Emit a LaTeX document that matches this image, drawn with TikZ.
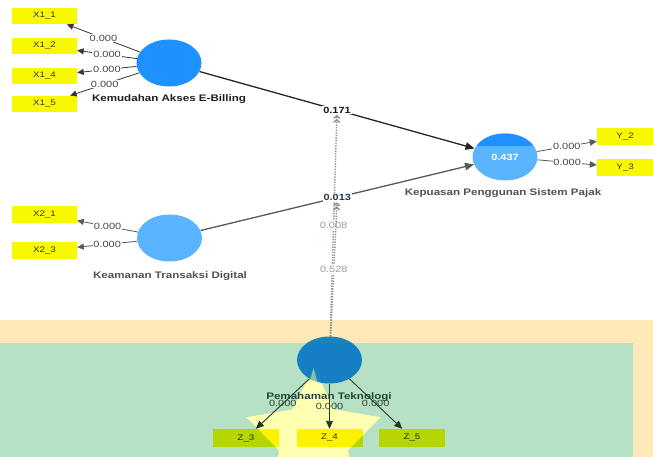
\documentclass[tikz,border=0pt]{standalone}
\usepackage{fontspec}
\setmainfont{Liberation Sans}[FakeStretch=1.22]
\usetikzlibrary{arrows.meta,shapes.geometric,calc}
\pgfdeclarelayer{bg}
\pgfsetlayers{bg,main}
\definecolor{dblue}{RGB}{30,144,255}
\definecolor{lblue}{RGB}{90,180,255}
\definecolor{ybox}{RGB}{248,248,0}
\definecolor{beige}{RGB}{254,234,185}
\definecolor{pgreen}{RGB}{183,225,197}
\definecolor{staryel}{RGB}{255,255,178}
\definecolor{modgray}{RGB}{135,145,140}
\definecolor{modtxt}{RGB}{150,160,158}
\begin{document}
\begin{tikzpicture}[x=1pt,y=-1pt,
  lv/.style={ellipse, minimum width=65pt, minimum height=47pt, inner sep=0pt},
  ind/.style={rectangle, fill=ybox, minimum width=65pt, minimum height=16.5pt, inner sep=0pt, font=\fontsize{8}{9}\selectfont, text=black!80},
  lvlab/.style={font=\bfseries\fontsize{9.5}{11}\selectfont},
  wt/.style={fill=white, inner sep=0.8pt, font=\fontsize{9}{10}\selectfont, text=black!72},
  ld/.style={draw=black!78, line width=0.8pt, -{Triangle[length=6.5pt,width=6pt]}},
  yl/.style={draw=black!65, line width=0.8pt, -{Triangle[length=7pt,width=6.5pt]}},
  zld/.style={draw={rgb,255:red,35;green,55;blue,35}, line width=0.9pt, -{Triangle[length=8pt,width=7pt]}},
  zlab/.style={inner sep=0pt, font=\fontsize{9}{10}\selectfont, text={rgb,255:red,40;green,70;blue,55}},
  pathline/.style={line width=1.3pt, -{Triangle[length=9pt,width=7.5pt]}},
  pathlab/.style={fill=white, inner sep=1pt, font=\bfseries\fontsize{9}{10}\selectfont},
  modline/.style={draw=modgray, line width=1.4pt, dash pattern=on 1.3pt off 1.3pt, -{Straight Barb[length=2.5pt,width=6pt] Straight Barb[length=2.5pt,width=6pt]}},
  modlab/.style={fill=white, inner sep=1pt, font=\fontsize{9}{10}\selectfont, text=modtxt},
  starshape/.style={star, star points=5, star point ratio=1.94, minimum size=141pt, inner sep=0pt}
]
\useasboundingbox (0,0) rectangle (653,457);
\begin{pgfonlayer}{bg}
  \fill[white] (0,0) rectangle (653,457);
  \fill[beige] (0,320) rectangle (653,457);
  \fill[pgreen] (0,343) rectangle (633,457);
  \node[starshape, fill=staryel] (star) at (313.5,439) {};
\end{pgfonlayer}

% latent variables
\node[lv, fill=dblue] (kem) at (169,63) {};
\node[lvlab, text=black!88] (kemlab) at (169,99) {Kemudahan Akses E-Billing};
\node[lv, fill=lblue] (kea) at (169.5,238) {};
\node[lvlab, text=black!68] (kealab) at (170,276) {Keamanan Transaksi Digital};
\node[lv, fill=lblue] (kep) at (505,157) {};
\begin{scope}
  \clip (505,157) ellipse (32.5pt and 23.5pt);
  \fill[dblue] (470,130) rectangle (540,146);
\end{scope}
\node[text=white, font=\bfseries\fontsize{9}{10}\selectfont] (r2) at (kep.center) {0.437};
\node[lvlab, text=black!68] (keplab) at (503,193) {Kepuasan Penggunan Sistem Pajak};

\begin{scope}[blend mode=multiply]
  \node[lv, fill=dblue] (pem) at (329.5,360) {};
  \node[ind, minimum width=66pt, minimum height=18pt, fill=yellow] (z3) at (246,438) {Z\_3};
  \node[ind, minimum width=66pt, minimum height=18pt, fill=yellow] (z4) at (329.5,438) {Z\_4};
  \node[ind, minimum width=66pt, minimum height=18pt, fill=yellow] (z5) at (412,438) {Z\_5};
\end{scope}
\begin{scope}
  \clip (329.5,360) ellipse (32.5pt and 23.5pt);
  \fill[staryel, opacity=0.45] (313.5,368) -- (302.5,409) -- (324.5,409) -- cycle;
\end{scope}
\node[lvlab, text={rgb,255:red,35;green,70;blue,55}] (pemlab) at (329,397) {Pemahaman Teknologi};

% indicators
\node[ind] (x11) at (44.5,16) {X1\_1};
\node[ind] (x12) at (44.5,46) {X1\_2};
\node[ind] (x14) at (44.5,76) {X1\_4};
\node[ind] (x15) at (44.5,104) {X1\_5};
\node[ind] (x21) at (44.5,214.5) {X2\_1};
\node[ind] (x23) at (44.5,250.5) {X2\_3};
\node[ind, minimum width=56pt] (y2) at (625,136.5) {Y\_2};
\node[ind, minimum width=56pt] (y3) at (625,167.5) {Y\_3};

\draw[ld] (kem) -- node[wt] {0.000} (x11);
\draw[ld] (kem) -- node[wt] {0.000} (x12);
\draw[ld] (kem) -- node[wt] {0.000} (x14);
\draw[ld] (kem) -- node[wt] {0.000} (x15);
\draw[ld, draw=black!65] (kea) -- node[wt] {0.000} (x21);
\draw[ld, draw=black!65] (kea) -- node[wt] {0.000} (x23);
\draw[yl] (kep) -- node[wt] {0.000} (y2);
\draw[yl] (kep) -- node[wt] {0.000} (y3);

\draw[zld] (pem) -- (z3);
\draw[zld] (pem) -- (z4);
\draw[zld] (pem) -- (z5);
\node[zlab] (w3) at ($(pem.center)!0.56!(z3.center)$) {0.000};
\node[zlab] (w4) at ($(pem.center)!0.6!(z4.center)$) {0.000};
\node[zlab] (w5) at ($(pem.center)!0.56!(z5.center)$) {0.000};

% structural paths
\draw[pathline, draw=black!85] (kem) -- node[pathlab, text={rgb,255:red,20;green,20;blue,35}] (l171) {0.171} (kep);
\draw[pathline, draw=black!65] (kea) -- node[pathlab, text={rgb,255:red,40;green,55;blue,75}] (l013) {0.013} (kep);

% moderating effects
\begin{pgfonlayer}{bg}
  \draw[modline] (pem) -- node[modlab] {0.008} (l171);
  \draw[modline] (pem) -- node[modlab] {0.528} (l013);
\end{pgfonlayer}
\end{tikzpicture}
\end{document}
